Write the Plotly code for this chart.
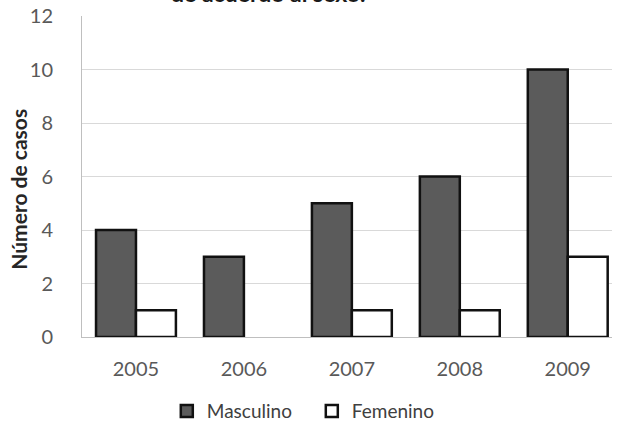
import plotly.graph_objects as go

years = ["2005", "2006", "2007", "2008", "2009"]
masculino = [4, 3, 5, 6, 10]
femenino = [1, 0, 1, 1, 3]
y_ticks = [0, 2, 4, 6, 8, 10, 12]

FONT = "Lato"
fem_line_widths = [2.5 if v > 0 else 0 for v in femenino]

fig = go.Figure()
fig.add_trace(go.Bar(x=years, y=masculino, name="Masculino",
                     marker=dict(color="#5b5b5b", line=dict(color="#111111", width=2.5))))
fig.add_trace(go.Bar(x=years, y=femenino, name="Femenino",
                     marker=dict(color="#ffffff", line=dict(color="#111111", width=fem_line_widths))))

fig.update_layout(
    width=617, height=425,
    margin=dict(l=82, r=5, t=16, b=88, autoexpand=False),
    paper_bgcolor="white", plot_bgcolor="white",
    barmode="group", bargap=0.26, bargroupgap=0,
    font=dict(family=FONT, size=20, color="#595959"),
    showlegend=True,
    legend=dict(orientation="h", x=0.16, xanchor="left", y=-0.172, yanchor="top",
                font=dict(size=19, color="#404040"), itemwidth=30, traceorder="normal",
                entrywidth=100, entrywidthmode="pixels"),
    xaxis=dict(type="category", range=[-0.5, 4.41], showline=True, linecolor="#bfbfbf",
               linewidth=1, ticks="", showgrid=False, automargin=False,
               ticklabelstandoff=14, tickfont=dict(size=20, color="#595959")),
    yaxis=dict(range=[0, 12], tickvals=y_ticks, showline=True, linecolor="#bfbfbf",
               linewidth=1, gridcolor="#d9d9d9", gridwidth=1, ticks="", automargin=False,
               ticklabelstandoff=24, tickfont=dict(size=20, color="#595959"), zeroline=False),
    annotations=[
        dict(text="<b>Número de casos</b>", textangle=-90, xref="paper", yref="paper",
             x=-0.12, y=0.46, xanchor="center", yanchor="middle", showarrow=False,
             font=dict(size=21, color="#262626", family=FONT)),
        dict(text="<b>de acuerdo al sexo.</b>", xref="paper", yref="paper",
             x=0.35, y=1.0, yshift=7, xanchor="center", yanchor="bottom", showarrow=False,
             font=dict(size=23, color="#1a1a1a", family=FONT)),
    ],
)
fig.write_html("out.html", config={"displayModeBar": False},
               post_script="document.body.style.margin='0';")
